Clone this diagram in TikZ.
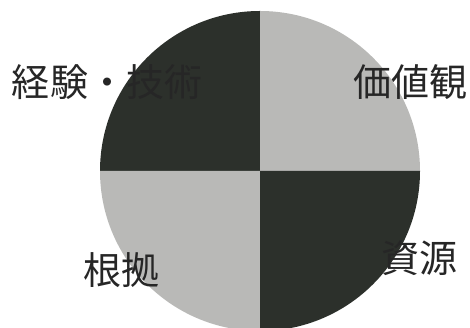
\documentclass[tikz,border=0pt]{standalone}
\usepackage{fontspec}
\newfontfamily\jp{Noto Sans CJK JP}
\definecolor{darkq}{HTML}{2C302B}
\definecolor{lightq}{HTML}{B9B9B7}
\definecolor{txt}{HTML}{262626}
\begin{document}
\begin{tikzpicture}[x=1pt,y=1pt,
  lbl/.style={font=\jp\fontsize{38}{38}\selectfont, text=txt, inner sep=0pt}]
\useasboundingbox (0,0) rectangle (470,328);
\coordinate (c) at (260,157);
\def\r{160}
\fill[darkq]  (c) -- ++(0,\r) arc (90:180:\r) -- cycle;
\fill[lightq] (c) -- ++(\r,0) arc (0:90:\r) -- cycle;
\fill[lightq] (c) -- ++(-\r,0) arc (180:270:\r) -- cycle;
\fill[darkq]  (c) -- ++(0,-\r) arc (270:360:\r) -- cycle;
\node[lbl] (keiken) at (107,246) {経験・技術};
\node[lbl] (kachi) at (410,246) {価値観};
\node[lbl] (konkyo) at (121,58) {根拠};
\node[lbl] (shigen) at (419,70) {資源};
\end{tikzpicture}
\end{document}
